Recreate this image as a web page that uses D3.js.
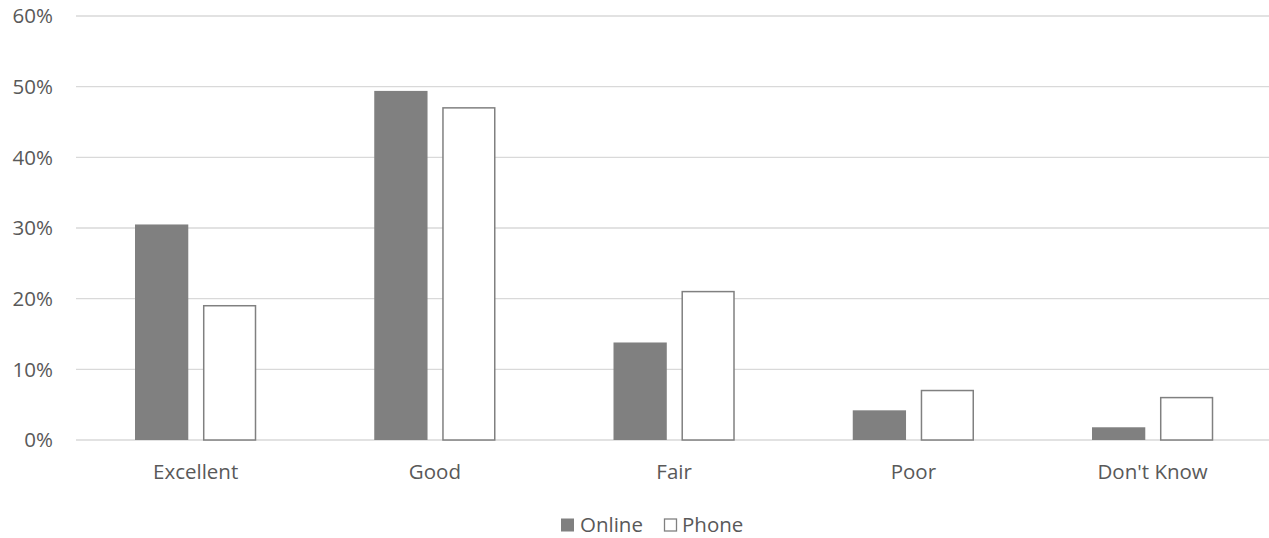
<!DOCTYPE html>
<html><head><meta charset="utf-8">
<script src="https://cdn.jsdelivr.net/npm/d3@7"></script>
<style>body{margin:0;background:#fff}svg{display:block}</style>
</head><body>
<svg id="c" width="1269" height="538"></svg>
<script>
const categories = ["Excellent", "Good", "Fair", "Poor", "Don't Know"];
const seriesNames = ["Online", "Phone"];
const online = [0.305, 0.494, 0.138, 0.042, 0.018];
const phone = [0.19, 0.47, 0.21, 0.07, 0.06];
const yTicks = [0, 0.1, 0.2, 0.3, 0.4, 0.5, 0.6];

(function () {
const FONT = "'Open Sans', sans-serif";
const FS = 20.5;
const svg = d3.select("#c");
const W = 1269;
const pLeft = 76, pRight = 1272.25, pTop = 16, pBottom = 440;

const x0 = d3.scaleBand().domain(categories).range([pLeft, pRight]).paddingInner(0).paddingOuter(0);
const bw = x0.bandwidth();
const x1 = d3.scaleBand().domain(seriesNames).range([bw * 0.2466, bw * (1 - 0.2466)]).paddingInner(0.216).paddingOuter(0);
const y = d3.scaleLinear().domain([0, 0.6]).range([pBottom, pTop]);

svg.append("g").selectAll("line").data(yTicks).join("line")
  .attr("x1", pLeft).attr("x2", W)
  .attr("y1", d => y(d)).attr("y2", d => y(d))
  .attr("stroke", "#d9d9d9").attr("stroke-width", 1.3);

svg.append("g").selectAll("text").data(yTicks).join("text")
  .attr("x", 53).attr("y", d => y(d)).attr("dy", "0.35em")
  .attr("text-anchor", "end")
  .attr("font-family", FONT).attr("font-size", FS).attr("fill", "#595959")
  .text(d => d3.format(".0%")(d));

const data = categories.map((c, i) => ({cat: c, vals: [
  {s: "Online", v: online[i]}, {s: "Phone", v: phone[i]}]}));

const groups = svg.append("g").selectAll("g").data(data).join("g")
  .attr("transform", d => `translate(${x0(d.cat)},0)`);

groups.selectAll("rect").data(d => d.vals).join("rect")
  .attr("x", d => x1(d.s) + (d.s === "Phone" ? 0.75 : 0))
  .attr("width", d => x1.bandwidth() - (d.s === "Phone" ? 1.5 : 0))
  .attr("y", d => y(d.v))
  .attr("height", d => y(0) - y(d.v))
  .attr("fill", d => d.s === "Online" ? "#808080" : "#ffffff")
  .attr("stroke", d => d.s === "Online" ? "none" : "#808080")
  .attr("stroke-width", 1.5);

svg.append("g").selectAll("text").data(categories).join("text")
  .attr("x", d => x0(d) + bw / 2).attr("y", 479)
  .attr("text-anchor", "middle")
  .attr("font-family", FONT).attr("font-size", FS).attr("fill", "#595959")
  .text(d => d);

const legend = svg.append("g");
const legItems = [{s: "Online", x: 561}, {s: "Phone", x: 664}];
legItems.forEach(it => {
  legend.append("rect").attr("x", it.x).attr("y", 518.5)
    .attr("width", it.s === "Online" ? 13 : 12).attr("height", it.s === "Online" ? 13 : 12)
    .attr("transform", it.s === "Phone" ? "translate(0.5,0.5)" : null)
    .attr("fill", it.s === "Online" ? "#808080" : "#fff")
    .attr("stroke", it.s === "Online" ? "none" : "#808080").attr("stroke-width", 1.3);
  legend.append("text").attr("x", it.x + (it.s === "Online" ? 19 : 18)).attr("y", 531.5)
    .attr("font-family", FONT).attr("font-size", FS).attr("fill", "#595959")
    .text(it.s);
});
})();
</script>
</body></html>
